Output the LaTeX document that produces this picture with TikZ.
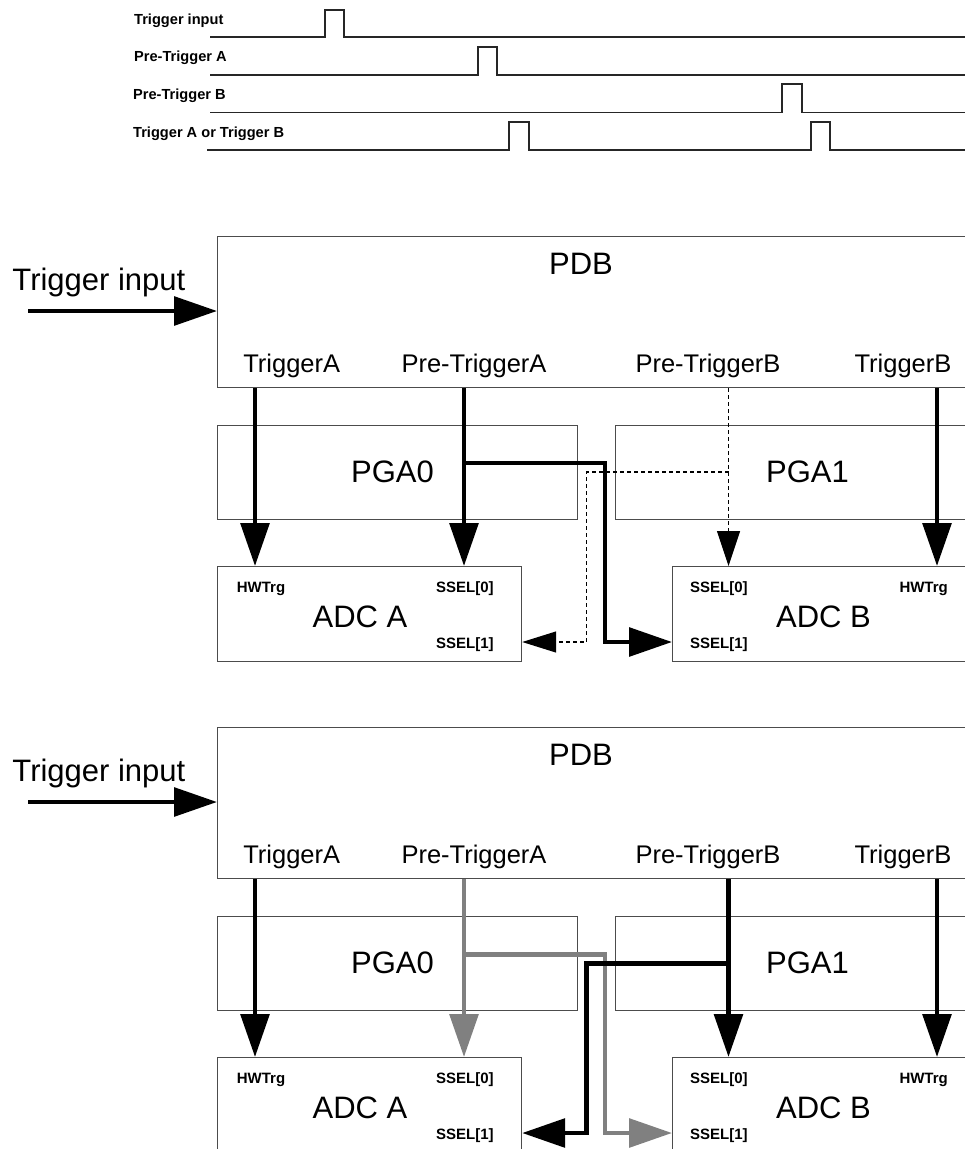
\documentclass[tikz,border=0pt]{standalone}
\usepackage{fontspec}
\setmainfont{Liberation Sans}
\usetikzlibrary{arrows.meta}
\begin{document}
\begin{tikzpicture}[x=1pt,y=-1pt,
  box/.style={draw=black!70, line width=1.2pt, inner sep=0pt, anchor=north west},
  big/.style={font=\fontsize{31}{36}\selectfont, inner sep=0pt, anchor=base},
  mid/.style={font=\fontsize{25.5}{30}\selectfont, inner sep=0pt, anchor=base},
  sml/.style={font=\bfseries\fontsize{15}{18}\selectfont, inner sep=0pt, anchor=base west},
  tim/.style={font=\bfseries\fontsize{14.6}{17}\selectfont, inner sep=0pt, anchor=base west},
  wave/.style={draw=black!85, line width=1.3pt},
  thk/.style={line width=4.5pt, -{Triangle[length=43pt,width=28.5pt]}},
  thkgray/.style={thk, draw=black!50},
  dshA/.style={line width=1.2pt, dash pattern=on 4pt off 3pt, -{Triangle[length=35pt,width=23pt]}},
  dshB/.style={line width=1.2pt, dash pattern=on 4pt off 3pt, -{Triangle[length=34pt,width=21pt]}},
]
\useasboundingbox (0,0) rectangle (965,1149);
\clip (0,0) rectangle (965,1149);

% ---------------- timing diagram ----------------
\node[tim] (t1) at (134,24) {Trigger input};
\node[tim] (t2) at (134,61.5) {Pre-Trigger A};
\node[tim] (t3) at (133,99.3) {Pre-Trigger B};
\node[tim] (t4) at (133,137.3) {Trigger A or Trigger B};
\draw[wave] (210,37) -- (325,37) -- (325,10) -- (344,10) -- (344,37) -- (970,37);
\draw[wave] (210,75) -- (478,75) -- (478,47) -- (497,47) -- (497,75) -- (970,75);
\draw[wave] (210,112.7) -- (782,112.7) -- (782,84) -- (802,84) -- (802,112.7) -- (970,112.7);
\draw[wave] (207,150) -- (509,150) -- (509,122) -- (529,122) -- (529,150)
  -- (811,150) -- (811,122) -- (830,122) -- (830,150) -- (970,150);

% column coordinates
\coordinate (cTA) at (255,0);
\coordinate (cPA) at (464,0);
\coordinate (cPB) at (728.5,0);
\coordinate (cTB) at (937,0);

% ---------------- first block diagram ----------------
\node[box, minimum width=753pt, minimum height=151pt] (pdb1) at (217,236) {};
\node[box, minimum width=360pt, minimum height=94pt] (pga01) at (217,425) {};
\node[box, minimum width=355pt, minimum height=94pt] (pga11) at (615,425) {};
\node[box, minimum width=304pt, minimum height=95pt] (adcA1) at (217,566) {};
\node[box, minimum width=298pt, minimum height=95pt] (adcB1) at (672,566) {};

\node[big] (pdb1l) at (581,274) {PDB};
\node[big] (pga01l) at (392.5,482.6) {PGA0};
\node[big] (pga11l) at (807.5,482.6) {PGA1};
\node[big] (adcA1l) at (360,627.8) {ADC A};
\node[big] (adcB1l) at (823.5,627.5) {ADC B};

\node[big, anchor=base west] (in1) at (12.3,290) {Trigger input};
\coordinate (in1s) at (28,311);
\draw[thk] (in1s) -- (pdb1.west |- in1s);

\node[mid] (ta1) at (291.7,372) {TriggerA};
\node[mid] (pa1) at (474,372) {Pre-TriggerA};
\node[mid] (pb1) at (708,372) {Pre-TriggerB};
\node[mid] (tb1) at (903,372) {TriggerB};

\node[sml] (hwA1) at (236.7,592) {HWTrg};
\node[sml] (s0A1) at (436,592) {SSEL[0]};
\node[sml] (s1A1) at (436,648) {SSEL[1]};
\node[sml] (s0B1) at (690,592) {SSEL[0]};
\node[sml] (s1B1) at (690,648) {SSEL[1]};
\node[sml] (hwB1) at (899.3,592) {HWTrg};

\draw[thk] (pdb1.south -| cTA) -- (adcA1.north -| cTA);
\draw[thk] (pdb1.south -| cPA) -- (adcA1.north -| cPA);
\draw[thk] (pdb1.south -| cTB) -- (adcB1.north -| cTB);
\coordinate (j1) at (464,463);
\coordinate (k1) at (605,642);
\draw[thk] (j1) -| (k1) -- (adcB1.west |- k1);
\draw[dshA] (pdb1.south -| cPB) -- (adcB1.north -| cPB);
\coordinate (j2) at (728.5,472);
\coordinate (k2) at (586.5,642);
\draw[dshB] (j2) -| (k2) -- (adcA1.east |- k2);

% ---------------- second block diagram ----------------
\node[box, minimum width=753pt, minimum height=151pt] (pdb2) at (217,727) {};
\node[box, minimum width=360pt, minimum height=94pt] (pga02) at (217,916) {};
\node[box, minimum width=355pt, minimum height=94pt] (pga12) at (615,916) {};
\node[box, minimum width=304pt, minimum height=95pt] (adcA2) at (217,1057) {};
\node[box, minimum width=298pt, minimum height=95pt] (adcB2) at (672,1057) {};

\node[big] (pdb2l) at (581,765) {PDB};
\node[big] (pga02l) at (392.5,973.6) {PGA0};
\node[big] (pga12l) at (807.5,973.6) {PGA1};
\node[big] (adcA2l) at (360,1118.8) {ADC A};
\node[big] (adcB2l) at (823.5,1118.5) {ADC B};

\node[big, anchor=base west] (in2) at (12.3,781) {Trigger input};
\coordinate (in2s) at (28,802);
\draw[thk] (in2s) -- (pdb2.west |- in2s);

\node[mid] (ta2) at (291.7,863) {TriggerA};
\node[mid] (pa2) at (474,863) {Pre-TriggerA};
\node[mid] (pb2) at (708,863) {Pre-TriggerB};
\node[mid] (tb2) at (903,863) {TriggerB};

\node[sml] (hwA2) at (236.7,1083) {HWTrg};
\node[sml] (s0A2) at (436,1083) {SSEL[0]};
\node[sml] (s1A2) at (436,1139) {SSEL[1]};
\node[sml] (s0B2) at (690,1083) {SSEL[0]};
\node[sml] (s1B2) at (690,1139) {SSEL[1]};
\node[sml] (hwB2) at (899.3,1083) {HWTrg};

\draw[thk] (pdb2.south -| cTA) -- (adcA2.north -| cTA);
\draw[thkgray] (pdb2.south -| cPA) -- (adcA2.north -| cPA);
\coordinate (j3) at (464,954.5);
\coordinate (k3) at (605,1133);
\draw[thkgray] (j3) -| (k3) -- (adcB2.west |- k3);
\draw[thk] (pdb2.south -| cPB) -- (adcB2.north -| cPB);
\coordinate (j4) at (728.5,963.5);
\coordinate (k4) at (586.5,1133);
\draw[thk] (j4) -| (k4) -- (adcA2.east |- k4);
\draw[thk] (pdb2.south -| cTB) -- (adcB2.north -| cTB);
\end{tikzpicture}
\end{document}
